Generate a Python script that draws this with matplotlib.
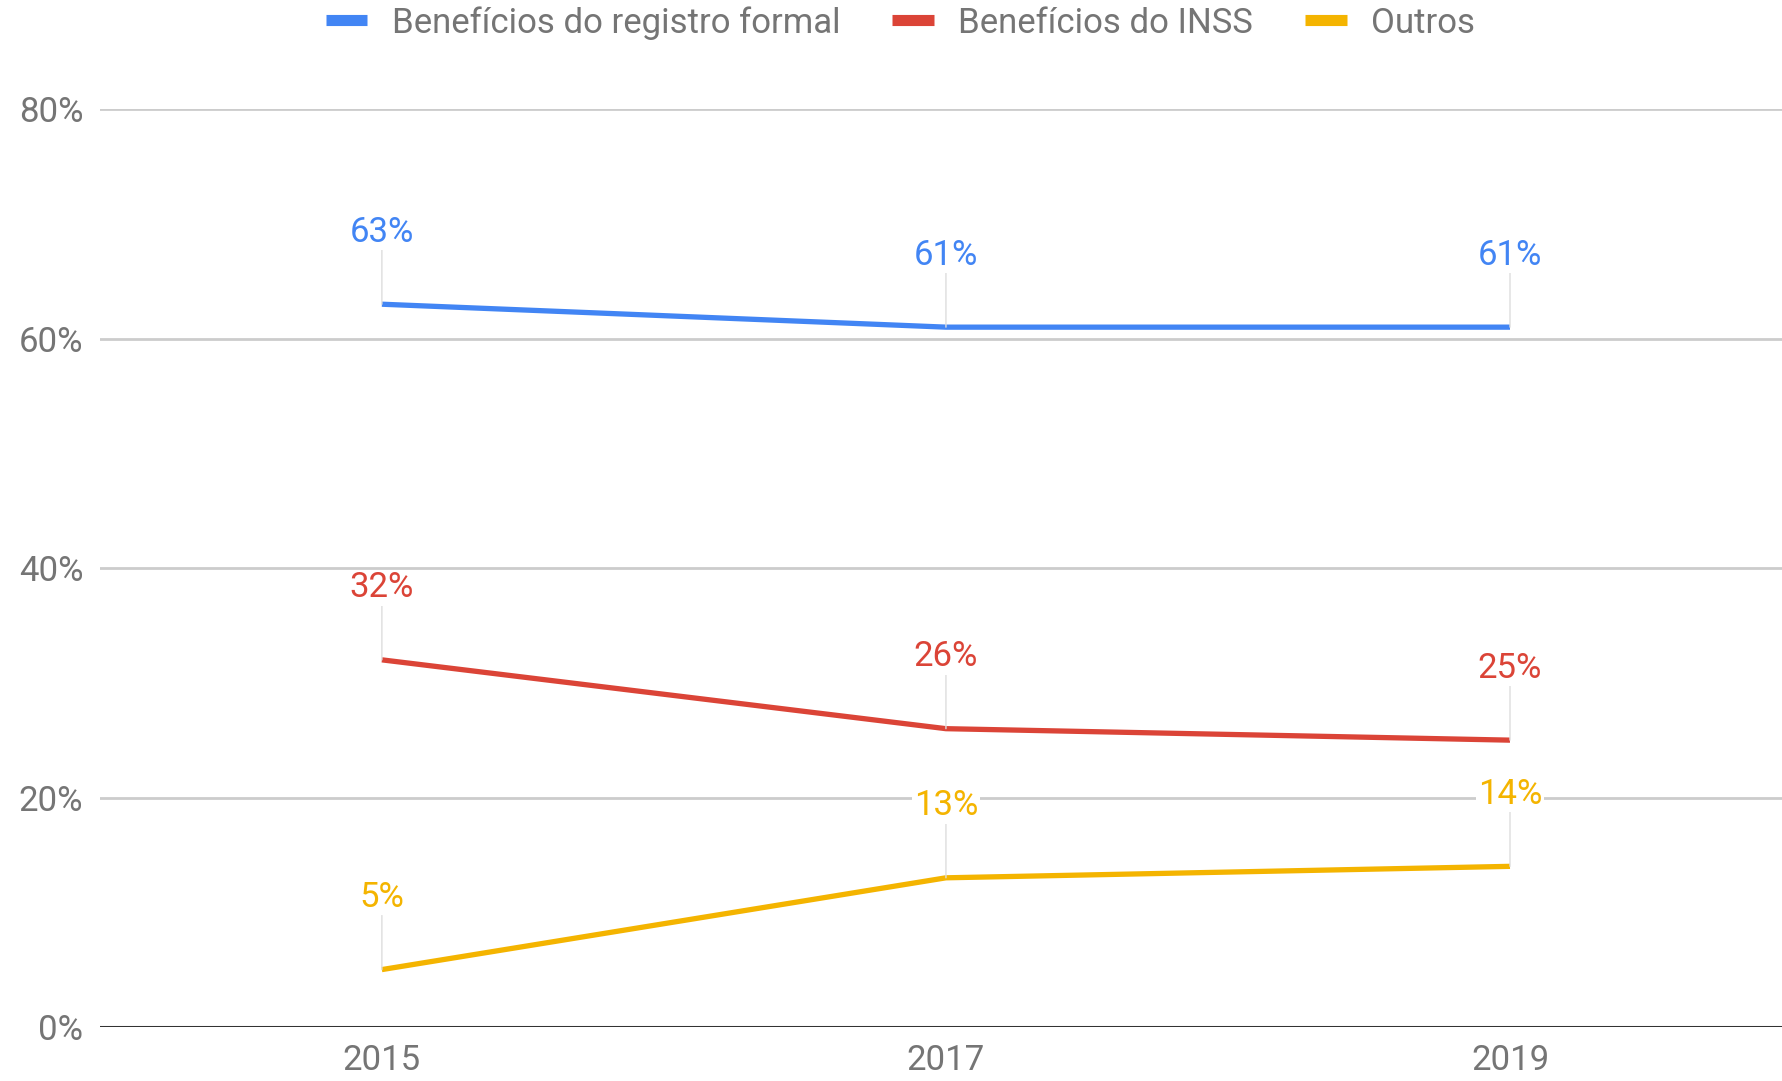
import matplotlib
matplotlib.use("Agg")
import matplotlib.pyplot as plt
from matplotlib.lines import Line2D
from matplotlib.ticker import FuncFormatter

plt.rcParams['font.family'] = ['Roboto', 'DejaVu Sans']

years = ["2015", "2017", "2019"]
registro = [63, 61, 61]
inss = [32, 26, 25]
outros = [5, 13, 14]

series = [
    ("Benefícios do registro formal", registro, "#4285F4"),
    ("Benefícios do INSS", inss, "#DB4437"),
    ("Outros", outros, "#F4B400"),
]

grey = "#757575"

fig = plt.figure(figsize=(17.83, 10.81), dpi=100)
ax = fig.add_axes([0.056, 0.05, 0.944, 0.849])

x = list(range(len(years)))

for name, vals, color in series:
    ax.plot(x, vals, color=color, lw=3.8, solid_capstyle='butt', zorder=3)
    for xi, v in zip(x, vals):
        ax.annotate(f"{v}%", xy=(xi, v), xytext=(0, 72), textcoords='offset pixels',
                    ha='center', va='center', fontsize=25, color=color, zorder=4,
                    bbox=dict(facecolor='white', edgecolor='none', pad=1),
                    arrowprops=dict(arrowstyle='-', color='#dddddd', lw=1,
                                    shrinkA=0, shrinkB=0))

ax.set_xlim(-0.5, 2.484)
ax.set_ylim(0, 80)
ax.set_yticks([0, 20, 40, 60, 80])
ax.yaxis.set_major_formatter(FuncFormatter(lambda v, p: f"{int(v)}%"))
ax.set_xticks(x)
ax.set_xticklabels(years)
ax.tick_params(axis='both', length=0, labelsize=25, labelcolor=grey)
ax.tick_params(axis='y', pad=12)
ax.tick_params(axis='x', pad=12)

ax.grid(axis='y', color='#cccccc', lw=2)
ax.set_axisbelow(True)
for s in ax.spines.values():
    s.set_visible(False)
ax.axhline(0, color='#333333', lw=2.2, zorder=2)

handles = [Line2D([0], [0], color=c, lw=8, solid_capstyle='butt') for _, _, c in series]
labels = [n for n, _, _ in series]
fig.legend(handles, labels, loc='center', bbox_to_anchor=(0.505, 0.979), ncol=3,
           frameon=False, fontsize=25, handlelength=1.2, handletextpad=0.7,
           columnspacing=1.5, labelcolor=grey)

fig.savefig("out.png", dpi=100)
